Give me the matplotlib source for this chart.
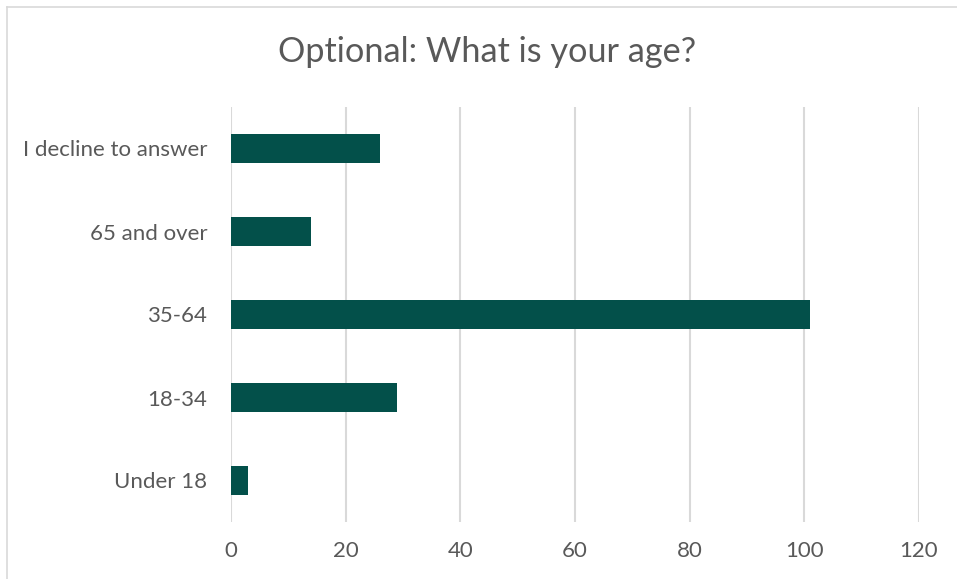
import matplotlib as mpl
import matplotlib.pyplot as plt
from matplotlib.lines import Line2D

# Survey responses (bottom to top)
categories = ["Under 18", "18-34", "35-64", "65 and over", "I decline to answer"]
counts = [3, 29, 101, 14, 26]
x_ticks = [0, 20, 40, 60, 80, 100, 120]

BAR_COLOR = "#03504A"
TEXT_COLOR = "#595959"
GRID_COLOR = "#D9D9D9"

mpl.rcParams.update({"font.family": ["Lato", "DejaVu Sans"]})

W, H = 957, 579
figure = plt.figure(figsize=(W / 100, H / 100), dpi=100)
axis = figure.add_axes([231 / W, 1 - 522 / H, (919 - 231) / W, (522 - 107) / H])

axis.barh(range(len(categories)), counts, height=0.36, color=BAR_COLOR, zorder=3)
axis.set_xlim(0, 120)
axis.set_ylim(-0.5, len(categories) - 0.5)
axis.set_xticks(x_ticks)
axis.set_yticks(range(len(categories)))
axis.set_yticklabels(categories)
axis.grid(axis="x", color=GRID_COLOR, linewidth=1.5, zorder=0)
for spine in axis.spines.values():
    spine.set_visible(False)
axis.tick_params(axis="both", length=0, labelsize=16, labelcolor=TEXT_COLOR)
axis.tick_params(axis="x", pad=14)
axis.tick_params(axis="y", pad=17)

figure.text(487 / W, 1 - 52 / H, "Optional: What is your age?", ha="center", va="center",
            fontsize=24.7, color=TEXT_COLOR)

# chart-area border (top and left visible in the reference)
figure.add_artist(Line2D([7 / W, 1], [1 - 7 / H, 1 - 7 / H], color=GRID_COLOR, linewidth=1.2))
figure.add_artist(Line2D([7 / W, 7 / W], [0, 1 - 7 / H], color=GRID_COLOR, linewidth=1.2))

figure.savefig("out.png", dpi=100)
